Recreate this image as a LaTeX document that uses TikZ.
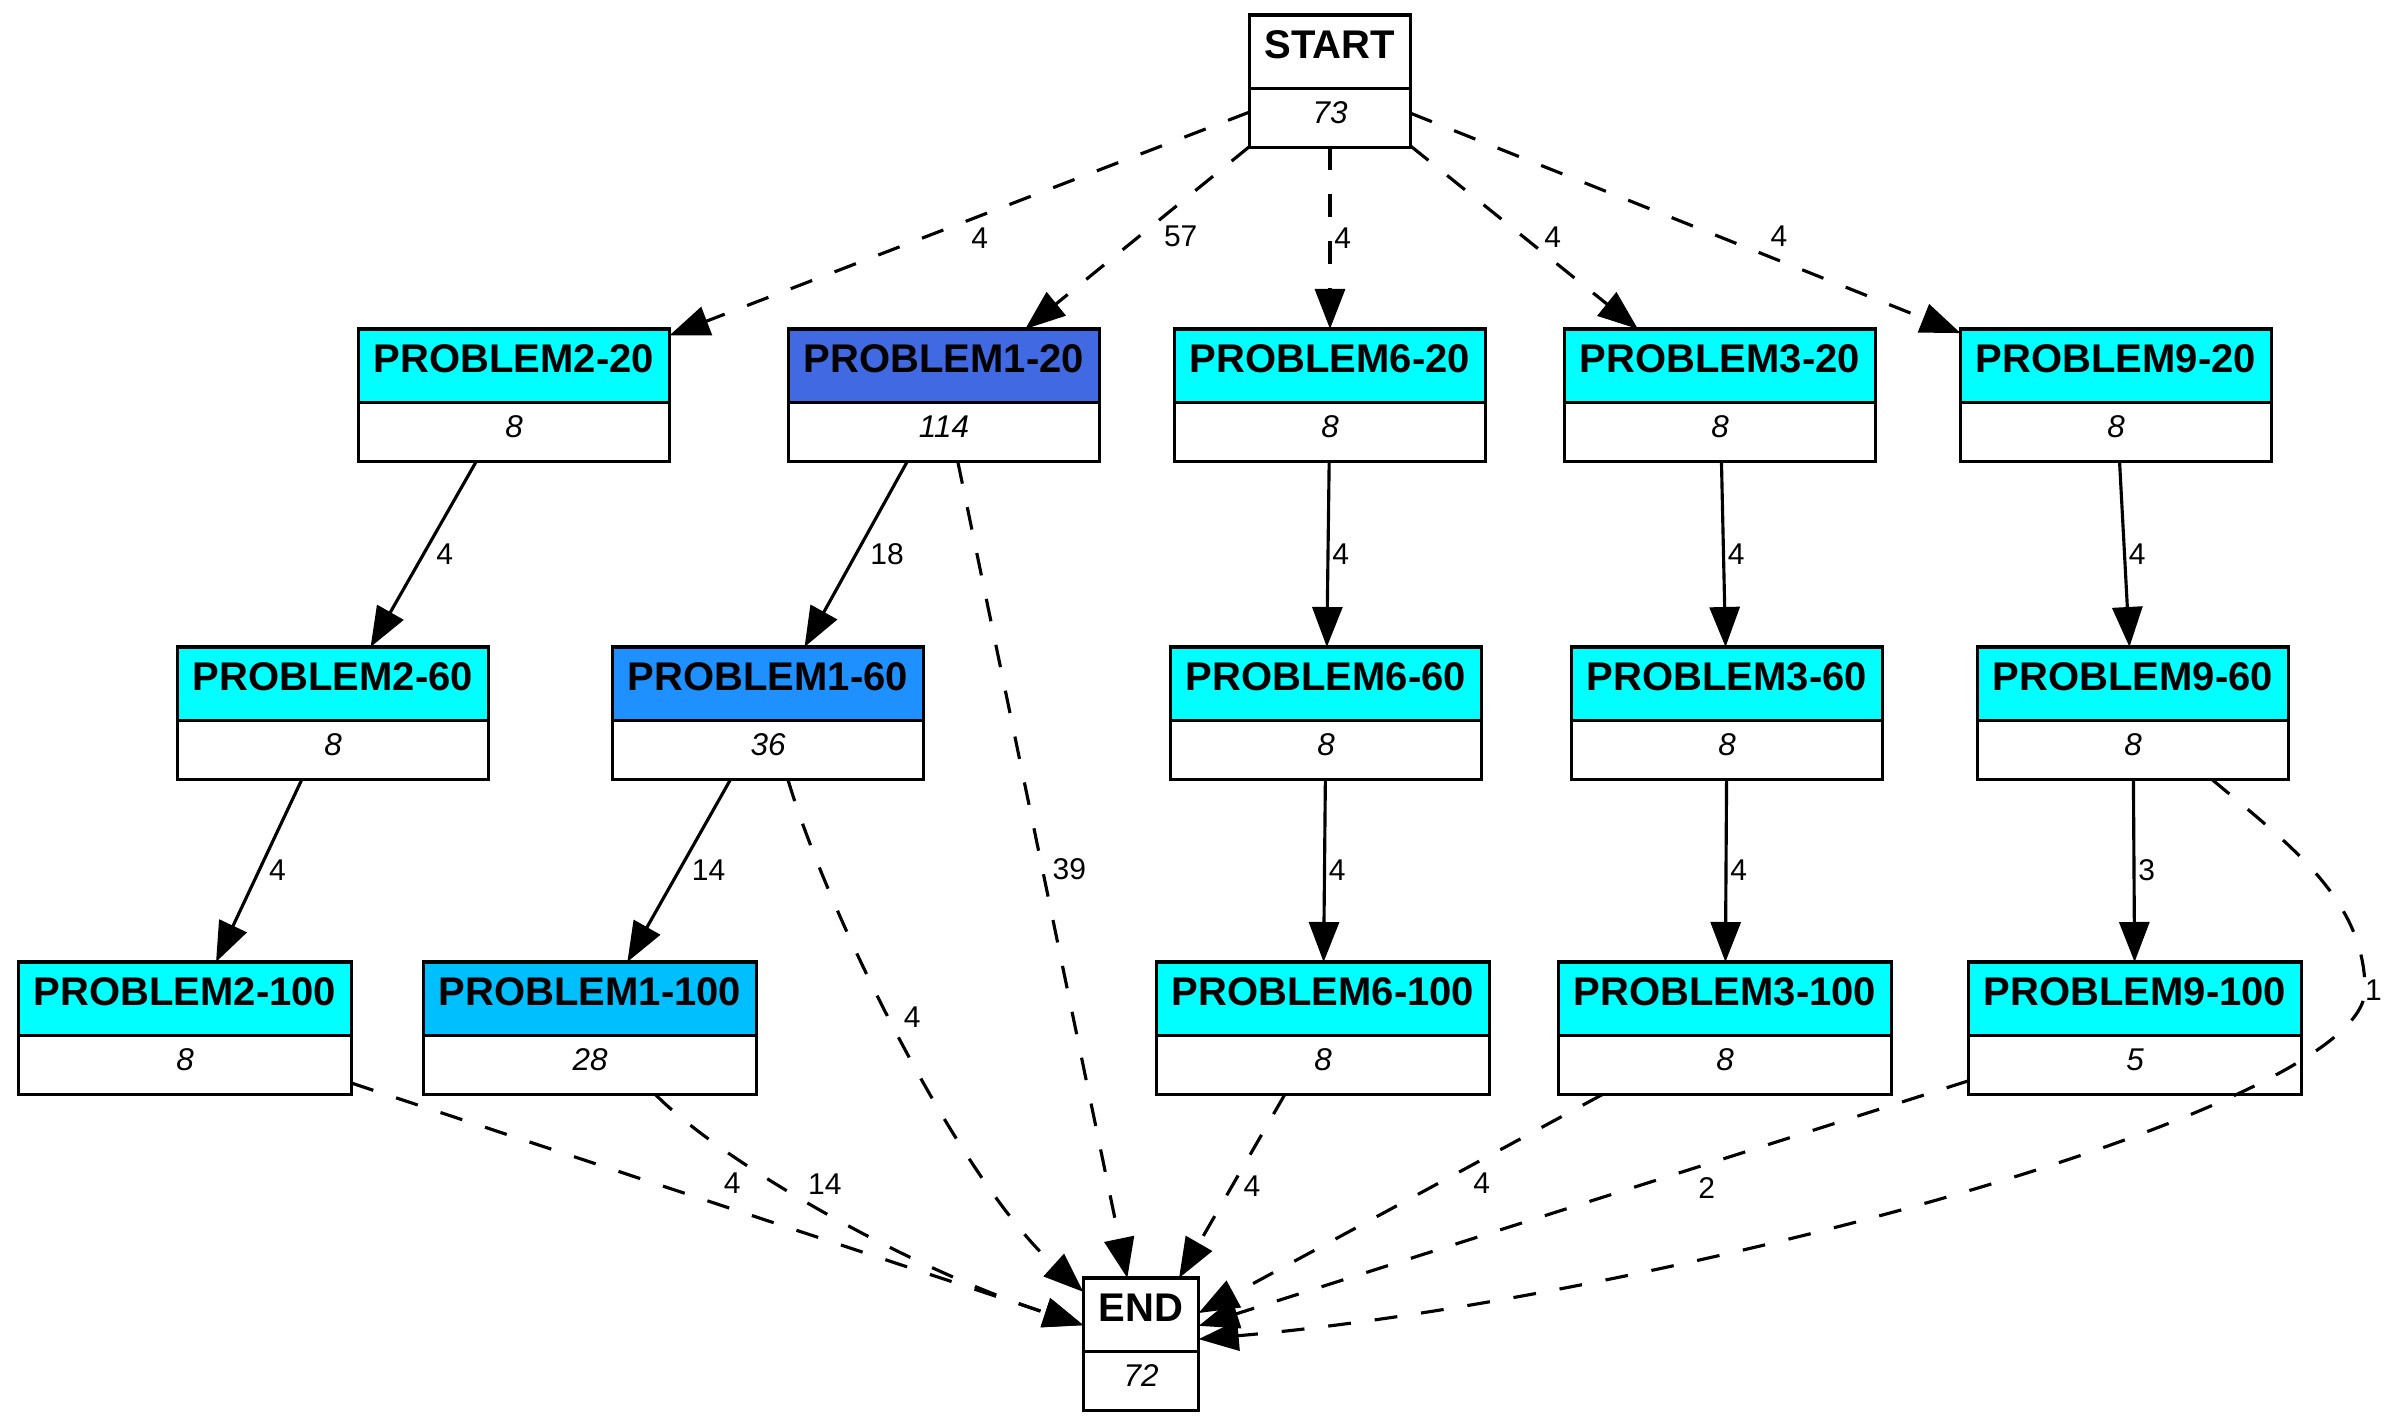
\documentclass[tikz,border=0pt]{standalone}
\usepackage{fontspec}
\setmainfont{Liberation Sans}
\usetikzlibrary{arrows.meta,positioning,shapes.multipart}
\definecolor{pcyan}{RGB}{0,255,255}
\definecolor{proyal}{RGB}{65,105,225}
\definecolor{pdodger}{RGB}{30,144,255}
\definecolor{pdeepsky}{RGB}{0,191,255}
\newcommand{\recHead}{\bfseries\fontsize{14}{16}\selectfont\rule[-10pt]{0pt}{24.7pt}}
\newcommand{\recNum}{\itshape\fontsize{11}{13}\selectfont\rule[-7.9pt]{0pt}{19.4pt}}
\tikzset{
  rec/.style={rectangle split, rectangle split parts=2, draw=black, line width=1.1pt,
              rectangle split part fill={#1,white}, inner xsep=5.4pt, inner ysep=0pt,
              outer sep=0pt, anchor=north},
  flow/.style={-{Triangle[length=14pt,width=10.5pt]}, line width=1.1pt},
  dflow/.style={flow, dash pattern=on 8pt off 8.4pt},
  elab/.style={font=\fontsize{10.5}{12}\selectfont, inner sep=1pt},
}
\begin{document}
\begin{tikzpicture}[x=0.35pt, y=-0.35pt]
    \useasboundingbox (0,0) rectangle (2400,1426);
    % start / end
    \node[rec=white] (start) at (1330,15) {\recHead START\nodepart{two}\recNum 73};
    \node[rec=white] (end) at (1141,1278) {\recHead END\nodepart{two}\recNum 72};
    % level 20
    \node[rec=pcyan] (p220) at (514,329) {\recHead PROBLEM2-20\nodepart{two}\recNum 8};
    \node[rec=proyal] (p120) at (944,329) {\recHead PROBLEM1-20\nodepart{two}\recNum 114};
    \node[rec=pcyan] (p620) at (1330,329) {\recHead PROBLEM6-20\nodepart{two}\recNum 8};
    \node[rec=pcyan] (p320) at (1720,329) {\recHead PROBLEM3-20\nodepart{two}\recNum 8};
    \node[rec=pcyan] (p920) at (2116,329) {\recHead PROBLEM9-20\nodepart{two}\recNum 8};
    % level 60
    \node[rec=pcyan] (p260) at (333,647) {\recHead PROBLEM2-60\nodepart{two}\recNum 8};
    \node[rec=pdodger] (p160) at (768,647) {\recHead PROBLEM1-60\nodepart{two}\recNum 36};
    \node[rec=pcyan] (p660) at (1326,647) {\recHead PROBLEM6-60\nodepart{two}\recNum 8};
    \node[rec=pcyan] (p360) at (1727,647) {\recHead PROBLEM3-60\nodepart{two}\recNum 8};
    \node[rec=pcyan] (p960) at (2133,647) {\recHead PROBLEM9-60\nodepart{two}\recNum 8};
    % level 100
    \node[rec=pcyan] (p2100) at (185,962) {\recHead PROBLEM2-100\nodepart{two}\recNum 8};
    \node[rec=pdeepsky] (p1100) at (590,962) {\recHead PROBLEM1-100\nodepart{two}\recNum 28};
    \node[rec=pcyan] (p6100) at (1323,962) {\recHead PROBLEM6-100\nodepart{two}\recNum 8};
    \node[rec=pcyan] (p3100) at (1725,962) {\recHead PROBLEM3-100\nodepart{two}\recNum 8};
    \node[rec=pcyan] (p9100) at (2135,962) {\recHead PROBLEM9-100\nodepart{two}\recNum 5};

    % from start
    \draw[dflow] (start) -- node[elab, pos=0.465, below=2.5pt] {4} (p220);
    \draw[dflow] (start) -- node[elab, pos=0.49, right=7pt] {57} (p120);
    \draw[dflow] (start) -- node[elab, pos=0.5, right=0pt] {4} (p620);
    \draw[dflow] (start) -- node[elab, pos=0.5, right=5.5pt] {4} (p320);
    \draw[dflow] (start) -- node[elab, pos=0.67, above=3.5pt] {4} (p920);

    % 20 -> 60
    \draw[flow] (p220) -- node[elab, right=3pt] {4} (p260);
    \draw[flow] (p120) -- node[elab, right=3.5pt] {18} (p160);
    \draw[flow] (p620) -- node[elab, right=0pt] {4} (p660);
    \draw[flow] (p320) -- node[elab, right=0pt] {4} (p360);
    \draw[flow] (p920) -- node[elab, right=0pt] {4} (p960);
    \draw[dflow] (p120) -- node[elab, pos=0.5, right=2pt] {39} (end);

    % 60 -> 100
    \draw[flow] (p260) -- node[elab, right=2pt] {4} (p2100);
    \draw[flow] (p160) -- node[elab, right=3pt] {14} (p1100);
    \draw[flow] (p660) -- node[elab, right=0pt] {4} (p6100);
    \draw[flow] (p360) -- node[elab, right=0pt] {4} (p3100);
    \draw[flow] (p960) -- node[elab, right=0pt] {3} (p9100);
    \draw[dflow] (p160) .. controls (830,920) and (960,1180) .. node[elab, pos=0.45, right=3.5pt] {4} (end);
    \draw[dflow] (p960) .. controls (2290,845) and (2365,900) .. (2365,990) node[elab, right=-1.5pt] {1}
                 .. controls (2365,1110) and (1650,1300) .. (end);

    % 100 -> end
    \draw[dflow] (p2100) -- node[elab, pos=0.52, above=4pt] {4} (end);
    \draw[dflow] (p1100) .. controls (720,1160) and (900,1265) .. node[elab, pos=0.5, above=4.5pt] {14} (end);
    \draw[dflow] (p6100) -- node[elab, pos=0.5, right=2.5pt] {4} (end);
    \draw[dflow] (p3100) -- node[elab, pos=0.3, below=3pt] {4} (end);
    \draw[dflow] (p9100) -- node[elab, pos=0.34, below=3pt] {2} (end);
\end{tikzpicture}
\end{document}
